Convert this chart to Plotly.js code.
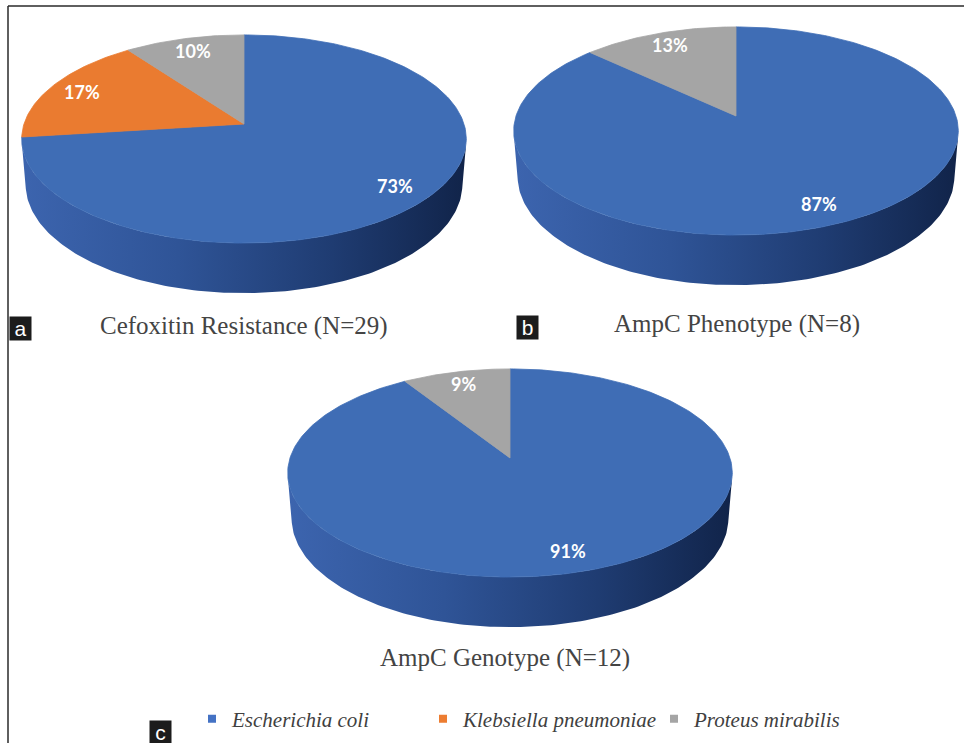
<!DOCTYPE html>
<html><head><meta charset="utf-8">
<script src="https://cdn.plot.ly/plotly-3.0.1.min.js"></script>
<style>html,body{margin:0;padding:0;background:#fff;} #chart{width:964px;height:743px;}</style>
</head><body><div id="chart"></div>
<script>
// ---- data ----
const species = ['Escherichia coli', 'Klebsiella pneumoniae', 'Proteus mirabilis'];
const chartTitles = ['Cefoxitin Resistance (N=29)', 'AmpC Phenotype (N=8)', 'AmpC Genotype (N=12)'];
const panelLetters = ['a', 'b', 'c'];
const cefoxitinResistance = [73, 17, 10];
const ampcPhenotype = [87, 0, 13];
const ampcGenotype = [91, 0, 9];
const seriesList = [cefoxitinResistance, ampcPhenotype, ampcGenotype];

// ---- styling / layout ----
const SERIF = '"Liberation Serif", "Times New Roman", serif';
const topColors = ['#3f6db5', '#ea7b30', '#a5a5a5'];
const legendColors = ['#4472c4', '#ed7d31', '#a5a5a5'];
const wallScales = [
  [[0, '#3c64ae'], [0.35, '#2f5497'], [0.7, '#1f3c72'], [1, '#11244a']],
  [[0, '#d86e26'], [0.5, '#b85a1c'], [1, '#7a3a10']],
  [[0, '#9a9a9a'], [0.5, '#808080'], [1, '#555555']]
];
const pieCentres = [[244, 124], [736, 116], [510, 458]];
const titlePos = [[244, 326], [737, 324], [505, 658]];
const letterPos = [[20, 328], [527, 327], [160, 732]];

const PHI = 27.6 * Math.PI / 180, D = 6.15, F = 1353, H = 0.235;
const cphi = Math.cos(PHI), sphi = Math.sin(PHI);
function proj(c, x, y, z) {
  const u = y * cphi + z * sphi;
  const w = D + z * cphi - y * sphi;
  return [c[0] + F * x / w, c[1] - F * u / w];
}
function rim(c, deg, y, r) {
  const t = deg * Math.PI / 180;
  return proj(c, r * Math.sin(t), y, r * Math.cos(t));
}
// visible front wall range (perspective silhouette)
const thS = Math.acos(-1 / (D * cphi)) * 180 / Math.PI;
const visLo = thS, visHi = 360 - thS;

function angles(a0, a1) {
  const out = [];
  for (let a = a0; a < a1; a += 1) out.push(a);
  out.push(a1);
  return out;
}

const traces = [];
const annotations = [];

seriesList.forEach((vals, pi) => {
  const c = pieCentres[pi];
  const total = vals.reduce((s, v) => s + v, 0);
  let start = 0;
  const slices = vals.map((v, si) => {
    const a0 = start, a1 = start + 360 * v / total;
    start = a1;
    return {si, v, a0, a1};
  }).filter(s => s.v > 0);

  // side walls
  slices.forEach(s => {
    const lo = Math.max(s.a0, visLo), hi = Math.min(s.a1, visHi);
    if (hi <= lo) return;
    const xs = [], ys = [];
    angles(lo, hi).forEach(a => { const p = rim(c, a, 0, 1); xs.push(p[0]); ys.push(p[1]); });
    angles(lo, hi).reverse().forEach(a => { const p = rim(c, a, -H, 1); xs.push(p[0]); ys.push(p[1]); });
    traces.push({
      type: 'scatter', mode: 'lines', x: xs, y: ys, fill: 'toself',
      line: {width: 0}, fillcolor: topColors[s.si],
      fillgradient: {type: 'horizontal', colorscale: wallScales[s.si], start: c[0] - 220, stop: c[0] + 220},
      hoverinfo: 'skip', showlegend: false
    });
  });

  // top faces
  slices.forEach(s => {
    const p0 = proj(c, 0, 0, 0);
    const xs = [p0[0]], ys = [p0[1]];
    angles(s.a0, s.a1).forEach(a => { const p = rim(c, a, 0, 1); xs.push(p[0]); ys.push(p[1]); });
    xs.push(p0[0]); ys.push(p0[1]);
    traces.push({
      type: 'scatter', mode: 'lines', x: xs, y: ys, fill: 'toself',
      fillcolor: topColors[s.si], line: {width: 0.8, color: topColors[s.si]},
      hoverinfo: 'skip', showlegend: false
    });
    const mid = (s.a0 + s.a1) / 2;
    const lp = rim(c, mid, 0, 0.84);
    annotations.push({
      x: lp[0], y: lp[1], xref: 'x', yref: 'y', text: s.v + '%', showarrow: false,
      font: {family: 'Lato, "Open Sans", sans-serif', size: 18, color: '#ffffff', weight: 'bold'}
    });
  });

  annotations.push({
    x: titlePos[pi][0], y: titlePos[pi][1], xref: 'x', yref: 'y', text: chartTitles[pi], showarrow: false,
    font: {family: SERIF, size: 25, color: '#444444'}
  });
  annotations.push({
    x: letterPos[pi][0], y: letterPos[pi][1], xref: 'x', yref: 'y', text: panelLetters[pi], showarrow: false,
    width: 19, height: 21, bgcolor: '#1c1c1c', borderpad: 1,
    font: {family: '"Liberation Sans", Arial, sans-serif', size: 21, color: '#ffffff'}
  });
});

// legend entries
species.forEach((name, i) => {
  traces.push({
    type: 'scatter', mode: 'markers', x: [null], y: [null], name: name,
    marker: {symbol: 'square', size: 8, color: legendColors[i]},
    hoverinfo: 'skip', showlegend: true
  });
});

const layout = {
  width: 964, height: 743,
  margin: {l: 0, r: 0, t: 0, b: 0},
  paper_bgcolor: '#ffffff', plot_bgcolor: '#ffffff',
  xaxis: {range: [0, 964], visible: false, fixedrange: true},
  yaxis: {range: [743, 0], visible: false, fixedrange: true},
  showlegend: true,
  legend: {
    orientation: 'h', x: 192 / 964, xanchor: 'left', y: 1 - 719 / 743, yanchor: 'middle',
    font: {family: SERIF, size: 21, color: '#404040', style: 'italic'},
    itemwidth: 30, entrywidth: 186, entrywidthmode: 'pixels', bgcolor: 'rgba(0,0,0,0)'
  },
  shapes: [
    {type: 'line', xref: 'x', yref: 'y', x0: 8, x1: 964, y0: 6, y1: 6, line: {color: '#2a2a2a', width: 1.5}},
    {type: 'line', xref: 'x', yref: 'y', x0: 8, x1: 8, y0: 6, y1: 743, line: {color: '#2a2a2a', width: 1.5}}
  ],
  annotations: annotations
};

Plotly.newPlot('chart', traces, layout, {staticPlot: true, displayModeBar: false});
</script>
</body></html>
